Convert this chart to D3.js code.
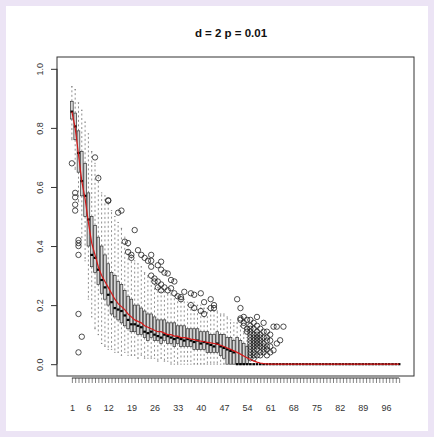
<!DOCTYPE html>
<html><head><meta charset="utf-8">
<script src="https://cdn.jsdelivr.net/npm/d3@7"></script>
<style>body{margin:0;background:#ece4f5;}svg{display:block}</style>
</head><body>
<script>
const title = "d = 2 p = 0.01";
const groups = d3.range(1, 101);
const xTickLabels = [1,6,12,19,26,33,40,47,54,61,68,75,82,89,96];
const yTicks = [0,0.2,0.4,0.6,0.8,1.0];

// per-group statistics, groups 1..100
const medians = [.855,.805,.715,.62,.57,.49,.37,.36,.32,.285,.26,.235,.21,.19,.185,.18,.165,.15,.135,.135,
.13,.125,.11,.105,.11,.10,.095,.09,.10,.095,.09,.085,.09,.085,.08,.085,.08,.075,.08,.07,
.075,.07,.065,.06,.07,.06,.055,.05,.045,.04,0,0,0,0,0,0,0,0,0,0,
0,0,0,0,0,0,0,0,0,0,0,0,0,0,0,0,0,0,0,0,0,0,0,0,0,0,0,0,0,0,0,0,0,0,0,0,0,0,0,0];
const q1 = [.83,.76,.65,.57,.50,.40,.33,.31,.27,.24,.22,.20,.17,.16,.15,.14,.13,.12,.11,.11,
.10,.10,.09,.08,.09,.08,.08,.07,.08,.07,.07,.06,.07,.06,.06,.06,.06,.05,.05,.05,
.05,.04,.04,.04,.04,.03,.02,0,0,0,0,0,0,0,0,0,0,0,0,0,
0,0,0,0,0,0,0,0,0,0,0,0,0,0,0,0,0,0,0,0,0,0,0,0,0,0,0,0,0,0,0,0,0,0,0,0,0,0,0,0];
const q3 = [.89,.85,.79,.72,.68,.58,.50,.47,.43,.40,.37,.34,.31,.30,.28,.27,.25,.23,.22,.20,
.20,.19,.18,.17,.17,.16,.15,.15,.15,.14,.14,.14,.13,.13,.13,.12,.12,.12,.12,.11,
.11,.11,.10,.10,.11,.10,.10,.09,.09,.08,.09,.08,.07,.06,0,0,0,0,0,0,
0,0,0,0,0,0,0,0,0,0,0,0,0,0,0,0,0,0,0,0,0,0,0,0,0,0,0,0,0,0,0,0,0,0,0,0,0,0,0,0];
const whiskLo = [.76,.66,.55,.43,.35,.22,.16,.12,.10,.07,.06,.05,.05,.04,.04,.03,.04,.03,.03,.03,
.02,.03,.02,.02,.02,.02,.01,.02,.01,.01,0,0,0,0,0,0,0,0,0,0,
0,0,0,0,0,0,0,0,0,0,0,0,0,0,0,0,0,0,0,0,
0,0,0,0,0,0,0,0,0,0,0,0,0,0,0,0,0,0,0,0,0,0,0,0,0,0,0,0,0,0,0,0,0,0,0,0,0,0,0,0];
const whiskHi = [.94,.93,.885,.86,.82,.78,.72,.68,.64,.58,.57,.55,.52,.50,.48,.46,.43,.40,.37,.35,
.34,.33,.31,.30,.29,.27,.26,.26,.25,.24,.24,.23,.23,.22,.22,.21,.21,.21,.20,.20,
.19,.19,.18,.18,.18,.17,.17,.16,.15,.14,.14,.13,.11,.09,0,0,0,0,0,0,
0,0,0,0,0,0,0,0,0,0,0,0,0,0,0,0,0,0,0,0,0,0,0,0,0,0,0,0,0,0,0,0,0,0,0,0,0,0,0,0];
const means = [.855,.80,.71,.62,.56,.48,.41,.37,.33,.30,.28,.26,.24,.22,.205,.195,.185,.17,.16,.15,
.145,.14,.13,.125,.12,.115,.11,.11,.105,.10,.10,.095,.095,.09,.09,.088,.085,.083,.08,.078,
.076,.074,.072,.07,.068,.064,.06,.055,.05,.045,.04,.034,.028,.022,.016,.011,.007,.004,.002,.001,
0,0,0,0,0,0,0,0,0,0,0,0,0,0,0,0,0,0,0,0,0,0,0,0,0,0,0,0,0,0,0,0,0,0,0,0,0,0,0,0];
const outlierGroup = [1,2,2,2,2,3,3,3,3,3,4,3,
 8,9,12,12,15,16,20,17,18,18,19,19,21,22,23,24,25,25,27,28,29,26,27,28,29,30,
 25,25,28,26,27,28,30,31,32,31,32,33,34,35,34,37,38,37,38,40,40,41,41,43,43,44,44,
 51,52,52,52,53,53,53,54,54,54,
 55,55,55,55,55,55,55,55,55,55,55,55,55,
 56,56,56,56,56,56,56,56,56,56,56,
 57,57,57,57,57,57,57,57,57,57,
 58,58,58,58,58,58,58,58,
 59,59,59,59,59,59,59,
 60,60,60,60,60,60,
 61,61,61,61,62,62,63,63,64,65];
const outlierValue = [.68,.58,.565,.54,.52,.41,.40,.37,.42,.17,.093,.04,
 .70,.63,.555,.553,.513,.52,.454,.415,.41,.38,.37,.36,.386,.37,.36,.35,.37,.35,.335,.32,.31,.29,.28,.27,.26,.25,
 .33,.30,.347,.28,.26,.25,.307,.285,.28,.257,.24,.23,.227,.245,.22,.24,.235,.20,.19,.24,.18,.21,.17,.22,.19,.20,.19,
 .22,.19,.155,.15,.16,.14,.13,.15,.12,.11,
 .15,.13,.12,.11,.10,.09,.08,.07,.06,.05,.04,.03,.02,
 .14,.12,.10,.09,.08,.07,.06,.05,.04,.03,.02,
 .16,.13,.11,.10,.09,.08,.07,.06,.05,.03,
 .12,.10,.09,.08,.07,.06,.04,.03,
 .14,.11,.09,.07,.06,.05,.04,
 .11,.09,.08,.06,.05,.03,
 .10,.08,.06,.04,.127,.047,.127,.07,.081,.127];

const W = 434, H = 437;
const svg = d3.select("body").append("svg").attr("width", W).attr("height", H);
svg.append("rect").attr("x", 6).attr("y", 6).attr("width", 422).attr("height", 425).attr("fill", "#fff");

const mL = 57, mR = 414, mT = 57, mB = 376;
const x = d3.scaleLinear().domain([-3.5, 104.5]).range([mL, mR]);
const y = d3.scaleLinear().domain([-0.04, 1.04]).range([mB, mT]);
const bw = (x(1.4) - x(1)); // half box width
const font = "'Liberation Sans', Arial, sans-serif";

const g = svg.append("g");
const data = groups.map((k, i) => ({k, med: medians[i], q1: q1[i], q3: q3[i], lo: whiskLo[i], hi: whiskHi[i]}));
const wcol = "#444";

// whiskers
g.selectAll(".wh").data(data).join("g").each(function(d) {
  const s = d3.select(this);
  const cx = x(d.k);
  if (d.hi > d.q3) {
    s.append("line").attr("x1", cx).attr("x2", cx).attr("y1", y(d.q3)).attr("y2", y(d.hi))
      .attr("stroke", wcol).attr("stroke-width", 0.6).attr("stroke-dasharray", "2,2.5");
    s.append("line").attr("x1", cx - bw/2).attr("x2", cx + bw/2).attr("y1", y(d.hi)).attr("y2", y(d.hi))
      .attr("stroke", wcol).attr("stroke-width", 0.6);
  }
  if (d.lo < d.q1) {
    s.append("line").attr("x1", cx).attr("x2", cx).attr("y1", y(d.q1)).attr("y2", y(d.lo))
      .attr("stroke", wcol).attr("stroke-width", 0.6).attr("stroke-dasharray", "2,2.5");
    s.append("line").attr("x1", cx - bw/2).attr("x2", cx + bw/2).attr("y1", y(d.lo)).attr("y2", y(d.lo))
      .attr("stroke", wcol).attr("stroke-width", 0.6);
  }
});
// boxes
g.selectAll(".box").data(data.filter(d => d.q3 > d.q1)).join("rect")
  .attr("x", d => x(d.k) - bw).attr("width", 2 * bw)
  .attr("y", d => y(d.q3)).attr("height", d => y(d.q1) - y(d.q3))
  .attr("fill", "#d6d6d6").attr("stroke", "#333").attr("stroke-width", 0.7);
// medians
g.selectAll(".med").data(data).join("line")
  .attr("x1", d => x(d.k) - bw).attr("x2", d => x(d.k) + bw)
  .attr("y1", d => y(d.med)).attr("y2", d => y(d.med))
  .attr("stroke", "#000").attr("stroke-width", 2.2);
// outliers
g.selectAll(".out").data(outlierGroup.map((k, i) => [k, outlierValue[i]])).join("circle")
  .attr("cx", d => x(d[0])).attr("cy", d => y(d[1])).attr("r", 2.7)
  .attr("fill", "none").attr("stroke", "#222").attr("stroke-width", 0.8);
// mean line
g.append("path").datum(groups.map((k, i) => [k, means[i]]))
  .attr("d", d3.line().x(d => x(d[0])).y(d => y(d[1])))
  .attr("fill", "none").attr("stroke", "#d81818").attr("stroke-width", 1.2);

// frame
svg.append("rect").attr("x", mL).attr("y", mT).attr("width", mR - mL).attr("height", mB - mT)
  .attr("fill", "none").attr("stroke", "#333").attr("stroke-width", 1);

// x axis
const xa = svg.append("g").attr("transform", `translate(0,${mB + 2})`)
  .call(d3.axisBottom(x).tickValues(groups).tickFormat(d => xTickLabels.includes(d) ? d : "").tickSize(5).tickSizeOuter(0));
xa.select(".domain").attr("stroke", "#333").attr("d", `M${x(1)},0H${x(100)}`);
xa.selectAll(".tick line").attr("stroke", "#333").attr("stroke-width", 0.6);
xa.selectAll(".tick text").attr("font-family", font).attr("font-size", 9).attr("fill", "#333")
  .attr("y", 33).attr("dy", 0);

// y axis
const ya = svg.append("g").attr("transform", `translate(${mL},0)`)
  .call(d3.axisLeft(y).tickValues(yTicks).tickFormat(d3.format(".1f")).tickSize(6).tickSizeOuter(0));
ya.select(".domain").attr("d", `M0,${y(0)}V${y(1)}`).attr("stroke", "#333");
ya.selectAll(".tick line").attr("stroke", "#333");
ya.selectAll(".tick text").attr("font-family", font).attr("font-size", 9).attr("fill", "#333")
  .attr("text-anchor", "middle").attr("transform", "rotate(-90)").attr("x", 0).attr("dy", 0).attr("y", -14);

svg.append("text").attr("x", 231).attr("y", 37).attr("text-anchor", "middle")
  .attr("font-family", font).attr("font-weight", "bold").attr("font-size", 11.5).attr("fill", "#111").text(title);
</script>
</body></html>
